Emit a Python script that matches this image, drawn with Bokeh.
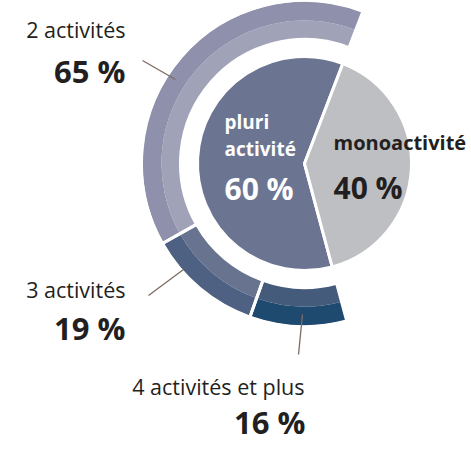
import math
from bokeh.plotting import figure
from bokeh.models import Range1d, ColumnDataSource
from bokeh.core.properties import value
from bokeh.embed import file_html
from bokeh.resources import INLINE

# ---- data ----
inner_labels = ["pluri activité", "monoactivité"]
inner_values = [60, 40]
inner_colors = ["#6b7592", "#bebfc3"]

outer_labels = ["2 activités", "3 activités", "4 activités et plus"]
outer_values = [65, 19, 16]
outer_inner_colors = ["#a0a2b8", "#68738f", "#455b7c"]
outer_outer_colors = ["#8f90ab", "#4e6182", "#1f4a6f"]

# ---- geometry: data units = window pixels (y measured from top of window) ----
W, H = 471, 441
IMG_H = 449
def Y(y):
    return IMG_H - y

cx, cy = 304, Y(171)
r_pie = 107
r_in, r_mid, r_out = 124, 143, 162
start = 69.0  # degrees, boundary pluri / mono at top

p = figure(width=W, height=H, output_backend="svg", toolbar_location=None,
           x_axis_type=None, y_axis_type=None,
           x_range=Range1d(0, W), y_range=Range1d(0, H),
           min_border=0, min_border_left=0, min_border_right=0,
           min_border_top=0, min_border_bottom=0,
           outline_line_color=None, background_fill_color="white",
           border_fill_color="white")
p.xgrid.visible = False
p.ygrid.visible = False

# inner pie
tot = sum(inner_values)
a0 = start
starts, ends = [], []
for v in inner_values:
    a1 = a0 + 360.0 * v / tot
    starts.append(math.radians(a0))
    ends.append(math.radians(a1))
    a0 = a1
src_in = ColumnDataSource(dict(s=starts, e=ends, c=inner_colors))
p.wedge(x=cx, y=cy, radius=r_pie, start_angle="s", end_angle="e",
        fill_color="c", line_color="white", line_width=3, source=src_in)

# outer ring over the pluri span
span = 360.0 * inner_values[0] / tot
tot_o = sum(outer_values)
a0 = start
os_, oe_ = [], []
for v in outer_values:
    a1 = a0 + span * v / tot_o
    os_.append(math.radians(a0))
    oe_.append(math.radians(a1))
    a0 = a1
src_out = ColumnDataSource(dict(s=os_, e=oe_, ci=outer_inner_colors, co=outer_outer_colors))
p.annular_wedge(x=cx, y=cy, inner_radius=r_in, outer_radius=r_mid, start_angle="s",
                end_angle="e", fill_color="ci", line_color=None, source=src_out)
p.annular_wedge(x=cx, y=cy, inner_radius=r_mid, outer_radius=r_out, start_angle="s",
                end_angle="e", fill_color="co", line_color=None, source=src_out)
p.annular_wedge(x=cx, y=cy, inner_radius=r_in, outer_radius=r_out + 1, start_angle="s",
                end_angle="e", fill_alpha=0, line_color="white", line_width=3,
                source=src_out)

# leader lines
lead_col = "#7d6b62"
p.segment(x0=[142, 148, 302], y0=[Y(68), Y(303), Y(322)],
          x1=[175, 183, 298], y1=[Y(87), Y(277), Y(362)],
          line_color=lead_col, line_width=1.3)

dark = "#231f20"
FONT = value("Open Sans")

def txt(x, y, s, size, bold=False, color=dark, align="left"):
    p.text(x=[x], y=[Y(y)], text=[s], text_font=FONT, text_font_size=f"{size}px",
           text_font_style="bold" if bold else "normal", text_color=color,
           text_align=align, text_baseline="alphabetic")

def pct(v):
    return f"{v} %"

# outer labels
txt(125, 37, outer_labels[0], 21.5, align="right")
txt(125, 78, pct(outer_values[0]), 31, bold=True, align="right")
txt(125, 297, outer_labels[1], 21.5, align="right")
txt(125, 335, pct(outer_values[1]), 31, bold=True, align="right")
txt(304, 394, outer_labels[2], 21.5, align="right")
txt(305, 429, pct(outer_values[2]), 31, bold=True, align="right")

# inner labels
txt(224, 129, "pluri", 19, bold=True, color="white")
txt(224, 156, "activité", 19, bold=True, color="white")
txt(224, 196, pct(inner_values[0]), 30, bold=True, color="white")
txt(333, 150, inner_labels[1], 20, bold=True)
txt(333, 195, pct(inner_values[1]), 30, bold=True)

open("out.html", "w").write(file_html(p, INLINE))
